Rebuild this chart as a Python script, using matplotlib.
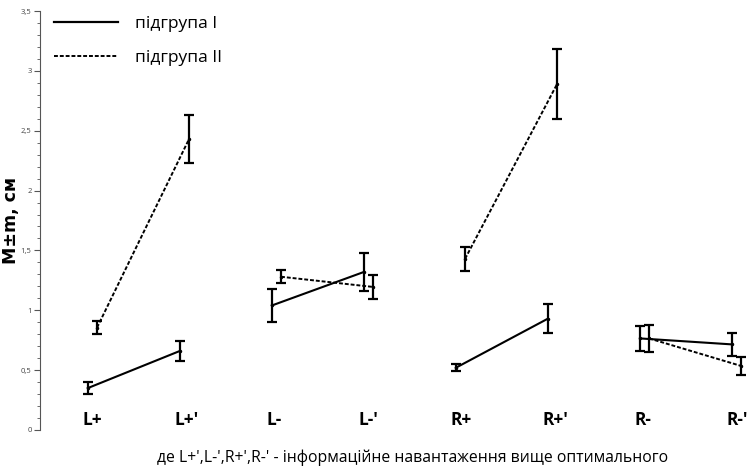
import matplotlib.pyplot as plt
import numpy as np
from matplotlib.ticker import MultipleLocator, FuncFormatter
from matplotlib.lines import Line2D

plt.rcParams["font.family"] = ["Open Sans", "DejaVu Sans"]

# категорії та значення (M±m, см)
cats = ["L+", "L+'", "L-", "L-'", "R+", "R+'", "R-", "R-'"]
mean_I = [0.35, 0.66, 1.04, 1.32, 0.52, 0.93, 0.765, 0.715]
err_I = [0.05, 0.085, 0.14, 0.16, 0.03, 0.12, 0.105, 0.095]
mean_II = [0.855, 2.43, 1.28, 1.195, 1.43, 2.89, 0.765, 0.535]
err_II = [0.055, 0.2, 0.055, 0.1, 0.1, 0.29, 0.11, 0.075]

x = np.arange(len(cats))
x_I = x - 0.0
x_II = x + 0.1

fig = plt.figure(figsize=(7.54, 4.69), dpi=100)
ax = fig.add_axes([0.053, 0.0832, 0.947, 0.8933])

for k in range(0, len(cats), 2):
    s = slice(k, k + 2)
    ax.errorbar(x_I[s], mean_I[s], yerr=err_I[s], color='black', lw=1.5,
                elinewidth=1.6, capsize=3.5, capthick=1.6, marker='.', ms=3)
    ax.errorbar(x_II[s], mean_II[s], yerr=err_II[s], color='black', lw=1.4,
                ls=(0, (2, 1)), elinewidth=1.6, capsize=3.5, capthick=1.6,
                marker='.', ms=3)

for xi, c in zip(x, cats):
    ax.text(xi - 0.06, 0.08, c, ha='left', va='center', fontsize=12.5,
            fontweight='bold')

ax.set_xlim(-0.52, 7.24)
ax.set_ylim(0, 3.5)
ax.set_xticks([])
ax.yaxis.set_major_locator(MultipleLocator(0.5))
ax.yaxis.set_minor_locator(MultipleLocator(0.1))
ax.yaxis.set_major_formatter(FuncFormatter(lambda v, p: f"{v:g}".replace('.', ',')))
ax.tick_params(axis='y', which='major', labelsize=5.5, length=4, color='#555555',
               labelcolor='#444444', pad=2)
ax.tick_params(axis='y', which='minor', length=2.5, color='#555555')
for sp in ['top', 'right', 'bottom']:
    ax.spines[sp].set_visible(False)
ax.spines['left'].set_color('#555555')

ax.set_ylabel('M±m, см', fontsize=12.5, fontweight='bold', family='DejaVu Sans')
ax.yaxis.set_label_coords(-0.028, 0.5)

handles = [Line2D([], [], color='black', lw=1.6),
           Line2D([], [], color='black', lw=1.4, ls=(0, (2, 1)))]
ax.legend(handles, ['підгрупа I', 'підгрупа II'], loc='upper left',
          bbox_to_anchor=(-0.002, 1.025), frameon=False, fontsize=12.5,
          handlelength=3.7, handletextpad=0.95, labelspacing=1.0)

fig.text(0.547, 0.025, "де L+',L-',R+',R-' - інформаційне навантаження вище оптимального",
         ha='center', va='center', fontsize=11.3)

plt.savefig('out.png')
